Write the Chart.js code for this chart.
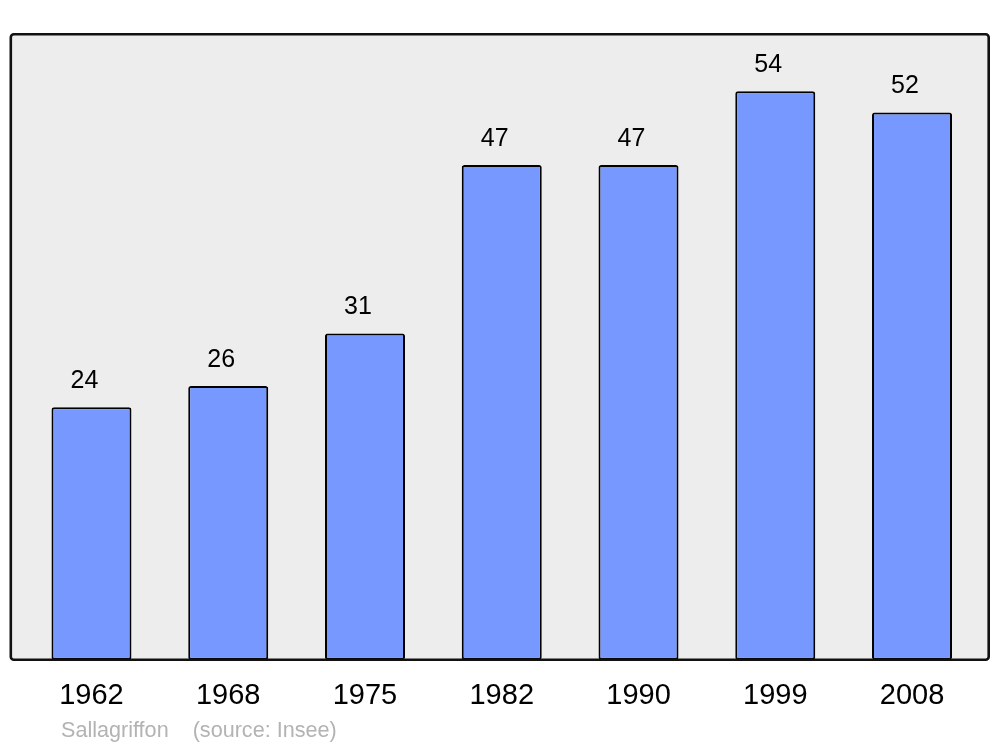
<!DOCTYPE html>
<html>
<head>
<meta charset="utf-8">
<script src="https://cdn.jsdelivr.net/npm/chart.js@4.4.0/dist/chart.umd.min.js"></script>
<style>
  html, body { margin: 0; padding: 0; background: #ffffff; }
  #wrap { position: relative; width: 1000px; height: 747px; }
  #footer { position: absolute; left: 61px; top: 719px; font-family: "Liberation Sans", Arial, sans-serif;
            font-size: 21.6px; line-height: 21px; color: #b3b3b3; white-space: pre; }
</style>
</head>
<body>
<div id="wrap">
  <canvas id="c" width="1000" height="747"></canvas>
  <div id="footer">Sallagriffon    (source: Insee)</div>
</div>
<script>
const years = ["1962", "1968", "1975", "1982", "1990", "1999", "2008"];
const population = [24, 26, 31, 47, 47, 54, 52];
const yMax = 59.43;

const FONT = '"Liberation Sans", Arial, sans-serif';

const framePlugin = {
  id: 'frame',
  beforeDatasetsDraw(chart) {
    const ca = chart.chartArea, ctx = chart.ctx;
    ctx.save();
    ctx.beginPath();
    ctx.roundRect(ca.left - 12.3, ca.top, (ca.right + 8.3) - (ca.left - 12.3), ca.bottom - ca.top, 3);
    ctx.fillStyle = '#ededed';
    ctx.fill();
    ctx.restore();
  },
  afterDatasetsDraw(chart) {
    const ca = chart.chartArea, ctx = chart.ctx;
    ctx.save();
    ctx.beginPath();
    ctx.roundRect(ca.left - 12.3, ca.top, (ca.right + 8.3) - (ca.left - 12.3), ca.bottom - ca.top, 3);
    ctx.lineWidth = 2.6;
    ctx.strokeStyle = '#111111';
    ctx.stroke();
    // value labels
    const meta = chart.getDatasetMeta(0);
    ctx.font = '25px ' + FONT;
    ctx.fillStyle = '#000000';
    ctx.textAlign = 'center';
    ctx.textBaseline = 'middle';
    meta.data.forEach((bar, i) => {
      ctx.fillText(String(chart.data.datasets[0].data[i]), bar.x - 7, bar.y - 26);
    });
    ctx.restore();
  }
};

new Chart(document.getElementById('c'), {
  type: 'bar',
  data: {
    labels: years,
    datasets: [{
      data: population,
      backgroundColor: '#7799ff',
      borderColor: '#000000',
      borderWidth: 2,
      borderRadius: 2.5,
      borderSkipped: false,
      barPercentage: 0.585,
      categoryPercentage: 1.0
    }]
  },
  options: {
    responsive: false,
    animation: false,
    devicePixelRatio: 1,
    layout: { padding: { left: 23.1, right: 19.6, top: 34.2, bottom: 15.6 } },
    plugins: { legend: { display: false }, tooltip: { enabled: false } },
    scales: {
      x: {
        grid: { display: false, drawTicks: false },
        border: { display: false },
        ticks: { color: '#000000', font: { family: FONT, size: 29 }, padding: 18.4, maxRotation: 0 }
      },
      y: {
        display: false,
        min: 0,
        max: yMax
      }
    }
  },
  plugins: [framePlugin]
});
</script>
</body>
</html>
